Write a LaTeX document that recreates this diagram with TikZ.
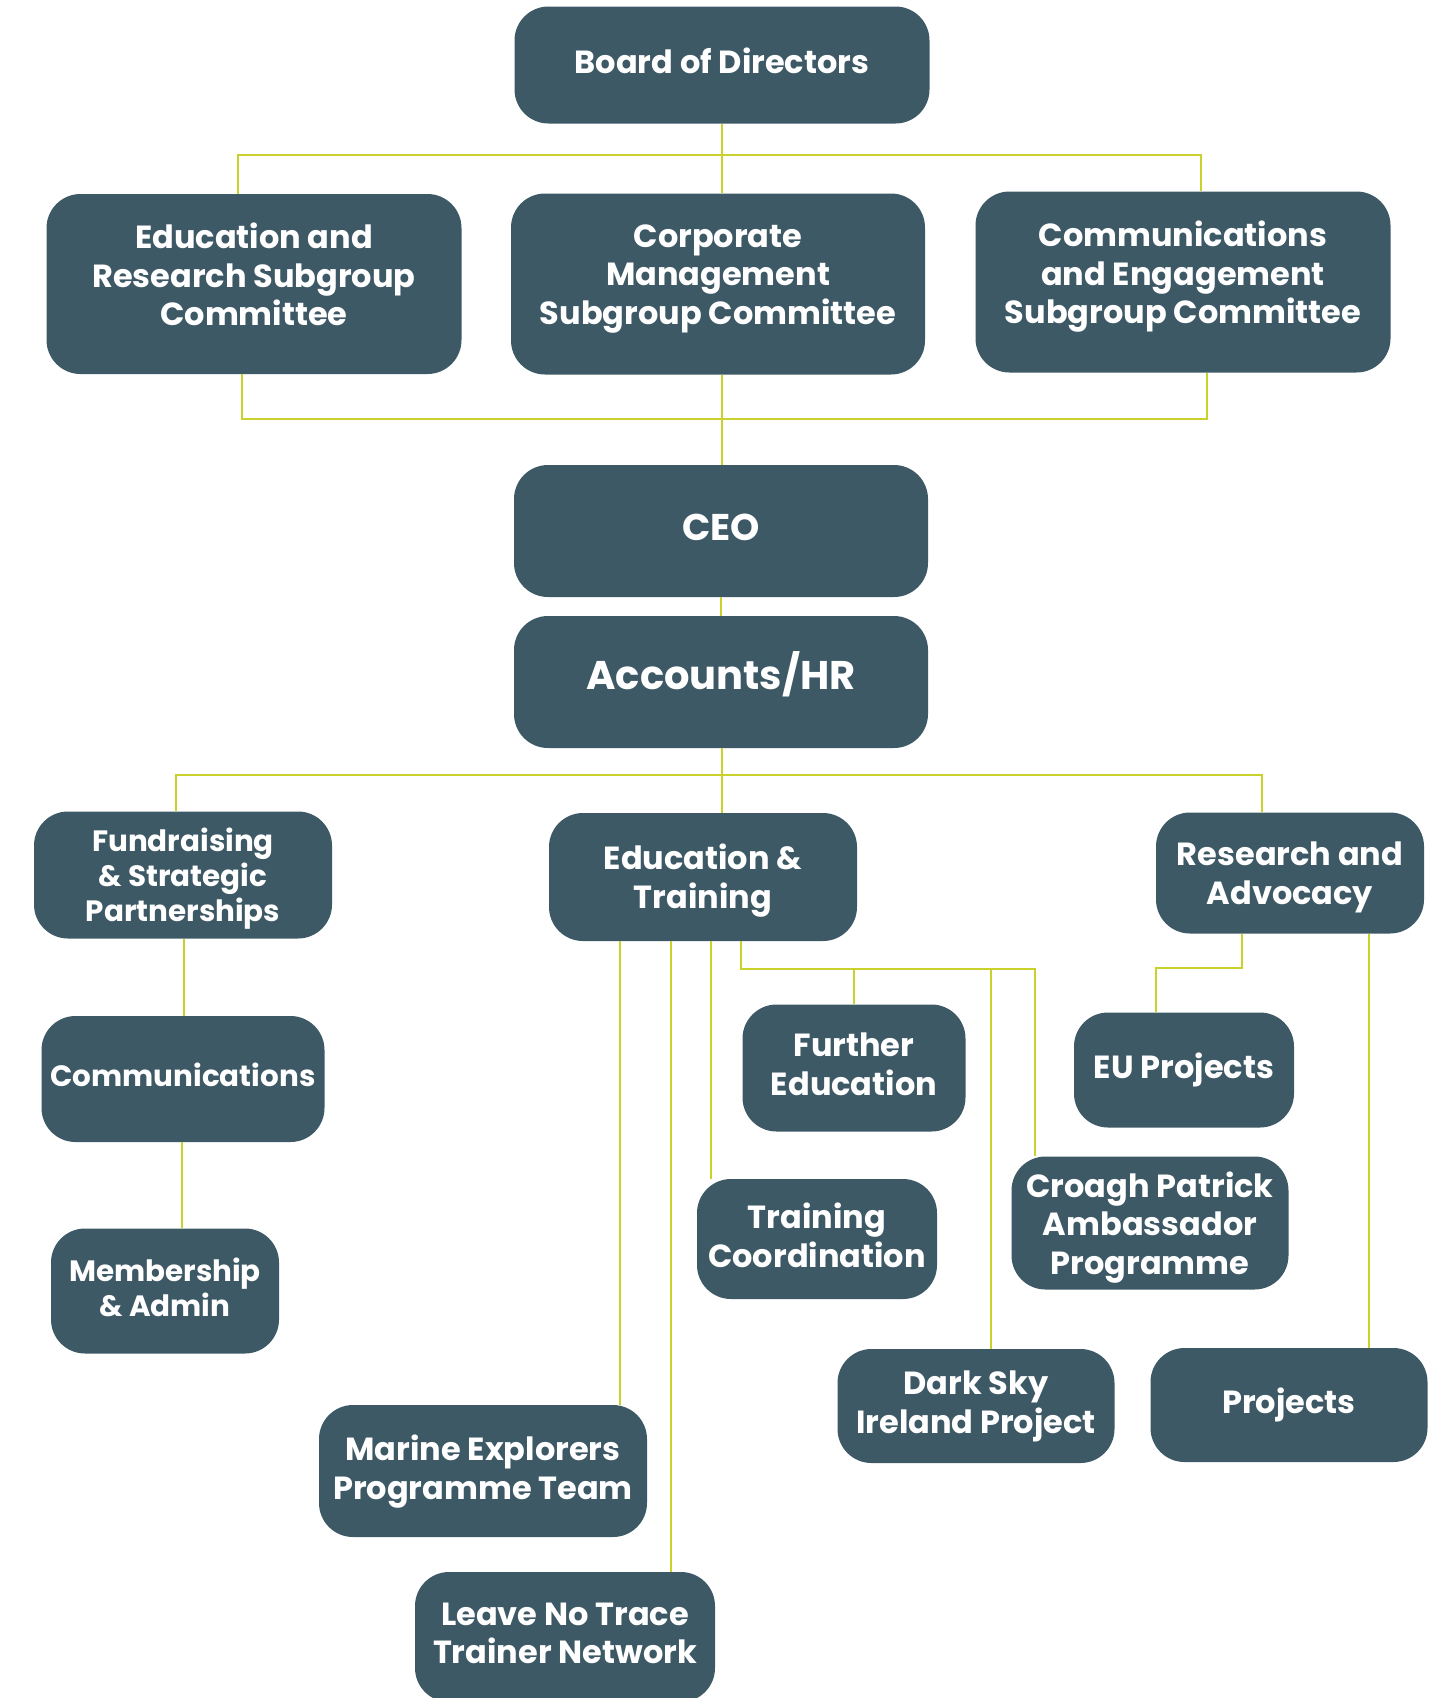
\documentclass[tikz,border=0pt]{standalone}
\usepackage{fontspec}
\setmainfont{Poppins}
\usepackage{tikz}
\definecolor{slate}{HTML}{3E5966}
\definecolor{lime}{HTML}{C9D22B}

\begin{document}
\begin{tikzpicture}[
		x=0.5pt, y=-0.5pt,
		unit/.style 2 args={rectangle, rounded corners=17pt, fill=slate, text=white, font=\bfseries\fontsize{16}{19.2}\selectfont, align=center, inner sep=0pt, text depth=4pt, minimum width=#1*0.5pt, minimum height=#2*0.5pt},
		leftcol/.style={font=\bfseries\fontsize{14.7}{17.5}\selectfont},
		link/.style={draw=lime, line width=1.2pt}
	]
	\useasboundingbox (0,0) rectangle (1449,1698);

	% Board and subgroup committees
	\node[unit={415}{117}] (board) at (722,65) {Board of Directors};
	\node[unit={415}{180}, text depth=9.5pt] (edures) at (254,284) {Education and\\Research Subgroup\\Committee};
	\node[unit={414}{181}, text depth=9.5pt] (corp) at (718,284) {Corporate\\Management\\Subgroup Committee};
	\node[unit={415}{181}, text depth=9.5pt] (comms) at (1183,282) {Communications\\and Engagement\\Subgroup Committee};

	% Executive
	\node[unit={414}{132}, font=\bfseries\fontsize{18.6}{22}\selectfont] (ceo) at (721,531) {CEO};
	\node[unit={414}{132}, font=\bfseries\fontsize{20}{24}\selectfont, text depth=12pt] (acc) at (721,682) {Accounts/HR};

	% Departments
	\node[unit={298}{127}, leftcol, text depth=0pt] (fund) at (183,875) {Fundraising\\\& Strategic\\Partnerships};
	\node[unit={308}{128}, text depth=1pt] (edtr) at (703,877) {Education \&\\Training};
	\node[unit={268}{121}, text depth=-3pt] (resad) at (1290,873) {Research and\\Advocacy};

	% Teams
	\node[unit={283}{126}, leftcol] (comm) at (183,1079) {Communications};
	\node[unit={228}{125}, leftcol] (memb) at (165,1291) {Membership\\\& Admin};
	\node[unit={223}{127}] (furt) at (854,1068) {Further\\Education};
	\node[unit={240}{120}] (trco) at (817,1239) {Training\\Coordination};
	\node[unit={277}{133}, text depth=-3pt] (croa) at (1150,1223) {Croagh Patrick\\Ambassador\\Programme};
	\node[unit={277}{114}] (dark) at (976,1406) {Dark Sky\\Ireland Project};
	\node[unit={328}{132}] (mari) at (483,1471) {Marine Explorers\\Programme Team};
	\node[unit={300}{130}] (leav) at (565,1637) {Leave No Trace\\Trainer Network};
	\node[unit={220}{115}] (eu) at (1184,1070) {EU Projects};
	\node[unit={277}{114}] (proj) at (1289,1405) {Projects};

	% Bus points
	\coordinate (tbl) at (238,155);
	\coordinate (tbr) at (1201,155);
	\coordinate (lbl) at (242,419);
	\coordinate (lbm) at (722,419);
	\coordinate (lbr) at (1207,419);
	\coordinate (sbl) at (176,775);
	\coordinate (sbm) at (722,775);
	\coordinate (sbr) at (1262,775);
	\coordinate (lc) at (184,0);
	\coordinate (lc2) at (182,0);
	\coordinate (ea) at (620,0);
	\coordinate (eb) at (671,0);
	\coordinate (ec) at (711,0);
	\coordinate (ed) at (741,969);
	\coordinate (ee) at (1035,969);
	\coordinate (ef) at (991,0);
	\coordinate (ra) at (1242,968);
	\coordinate (rb) at (1156,968);
	\coordinate (rc) at (1369,0);

	% Links
	\draw[link] (board.south) -- (board.south |- corp.north);
	\draw[link] (edures.north -| tbl) |- (tbr) -- (comms.north -| tbr);
	\draw[link] (edures.south -| lbl) |- (lbr) -- (comms.south -| lbr);
	\draw[link] (corp.south -| lbm) -- (ceo.north -| lbm);
	\draw[link] (ceo.south) -- (acc.north);
	\draw[link] (fund.north -| sbl) |- (sbr) -- (resad.north -| sbr);
	\draw[link] (acc.south -| sbm) -- (edtr.north -| sbm);
	\draw[link] (fund.south -| lc) -- (comm.north -| lc);
	\draw[link] (comm.south -| lc2) -- (memb.north -| lc2);
	\draw[link] (edtr.south -| ea) -- (mari.north -| ea);
	\draw[link] (edtr.south -| eb) -- (leav.north -| eb);
	\draw[link] (edtr.south -| ec) -- (trco.north -| ec);
	\draw[link] (edtr.south -| ed) |- (ee) -- (croa.north -| ee);
	\draw[link] (furt.north) -- (furt.north |- ee);
	\draw[link] (dark.north -| ef) -- (ee -| ef);
	\draw[link] (resad.south -| ra) -- (ra) -- (rb) -- (eu.north -| rb);
	\draw[link] (resad.south -| rc) -- (proj.north -| rc);
\end{tikzpicture}
\end{document}
